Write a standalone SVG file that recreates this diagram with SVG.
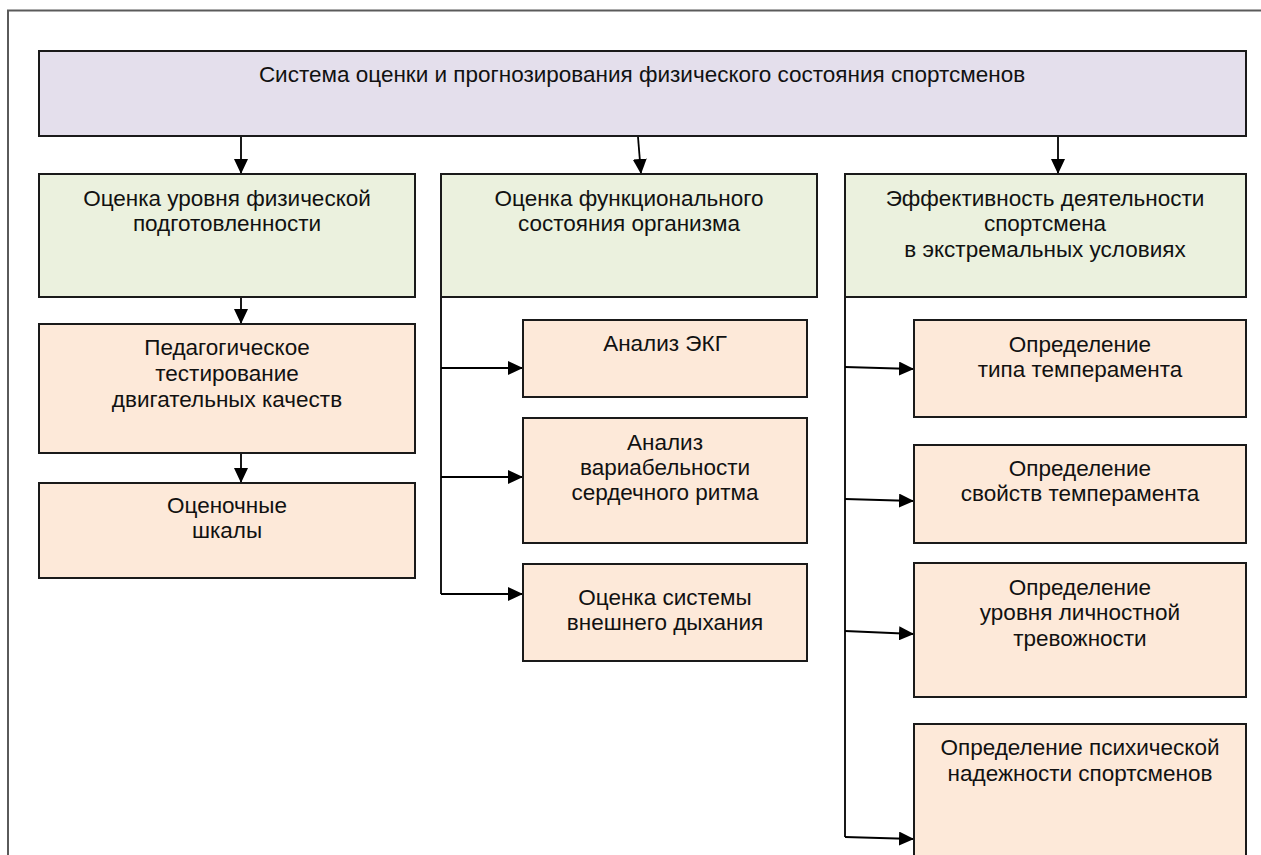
<svg xmlns="http://www.w3.org/2000/svg" width="1261" height="855" viewBox="0 0 1261 855">
<style>
.t{font-family:"Liberation Sans",Arial,sans-serif;font-size:22.5px;text-anchor:middle;fill:#111}
.box{stroke:#1a1a1a;stroke-width:2}
.top{fill:#E4DFEC}
.green{fill:#EBF1DE}
.peach{fill:#FDE9D9}
.c{stroke:#000;stroke-width:1.8;fill:none}
.a{marker-end:url(#arr)}
</style>
<defs>
<marker id="arr" markerUnits="userSpaceOnUse" markerWidth="15" markerHeight="14" refX="15" refY="7" orient="auto">
<path d="M0,0 L15,7 L0,14 z" fill="#000"/>
</marker>
</defs>
<rect width="1261" height="855" fill="#fff"/>
<path d="M8,855 V10.5 H1261" fill="none" stroke="#5a5a5a" stroke-width="2"/>

<g id="connectors">
<path class="c a" d="M241,137 V174"/>
<path class="c a" d="M638,137 L641,174"/>
<path class="c a" d="M1058,137 V174"/>
<path class="c a" d="M241,297 V324"/>
<path class="c a" d="M241,453 V483"/>
<path class="c" d="M441,297 V594"/>
<path class="c a" d="M441,368 H523"/>
<path class="c a" d="M441,477 H523"/>
<path class="c a" d="M441,594 H523"/>
<path class="c" d="M845,297 V837"/>
<path class="c a" d="M845,367 L914,369"/>
<path class="c a" d="M845,499 L914,501"/>
<path class="c a" d="M845,631 L914,634"/>
<path class="c a" d="M845,837 L914,839"/>
</g>

<g id="root">
<rect class="box top" x="39" y="51" width="1207" height="85"/>
<text class="t" x="642" y="82">Система оценки и прогнозирования физического состояния спортсменов</text>
</g>

<g id="phys">
<rect class="box green" x="39" y="174" width="376" height="123"/>
<text class="t" x="227" y="206">Оценка уровня физической</text>
<text class="t" x="227" y="231">подготовленности</text>
</g>
<g id="func">
<rect class="box green" x="441" y="174" width="376" height="123"/>
<text class="t" x="629" y="206">Оценка функционального</text>
<text class="t" x="629" y="231">состояния организма</text>
</g>
<g id="eff">
<rect class="box green" x="845" y="174" width="401" height="123"/>
<text class="t" x="1045" y="206">Эффективность деятельности</text>
<text class="t" x="1045" y="231">спортсмена</text>
<text class="t" x="1045" y="257">в экстремальных условиях</text>
</g>

<g id="ped">
<rect class="box peach" x="39" y="324" width="376" height="129"/>
<text class="t" x="227" y="355">Педагогическое</text>
<text class="t" x="227" y="381">тестирование</text>
<text class="t" x="227" y="407">двигательных качеств</text>
</g>
<g id="scales">
<rect class="box peach" x="39" y="483" width="376" height="95"/>
<text class="t" x="227" y="513">Оценочные</text>
<text class="t" x="227" y="538">шкалы</text>
</g>

<g id="ekg">
<rect class="box peach" x="523" y="320" width="284" height="77"/>
<text class="t" x="665" y="351">Анализ ЭКГ</text>
</g>
<g id="hrv">
<rect class="box peach" x="523" y="418" width="284" height="125"/>
<text class="t" x="665" y="450">Анализ</text>
<text class="t" x="665" y="475">вариабельности</text>
<text class="t" x="665" y="500">сердечного ритма</text>
</g>
<g id="breath">
<rect class="box peach" x="523" y="564" width="284" height="97"/>
<text class="t" x="665" y="605">Оценка системы</text>
<text class="t" x="665" y="630">внешнего дыхания</text>
</g>

<g id="temptype">
<rect class="box peach" x="914" y="320" width="332" height="97"/>
<text class="t" x="1080" y="352">Определение</text>
<text class="t" x="1080" y="377">типа темперамента</text>
</g>
<g id="tempprop">
<rect class="box peach" x="914" y="445" width="332" height="98"/>
<text class="t" x="1080" y="476">Определение</text>
<text class="t" x="1080" y="501">свойств темперамента</text>
</g>
<g id="anxiety">
<rect class="box peach" x="914" y="563" width="332" height="134"/>
<text class="t" x="1080" y="595">Определение</text>
<text class="t" x="1080" y="620">уровня личностной</text>
<text class="t" x="1080" y="646">тревожности</text>
</g>
<g id="reliab">
<rect class="box peach" x="914" y="724" width="332" height="140"/>
<text class="t" x="1080" y="755">Определение психической</text>
<text class="t" x="1080" y="781">надежности спортсменов</text>
</g>
</svg>
